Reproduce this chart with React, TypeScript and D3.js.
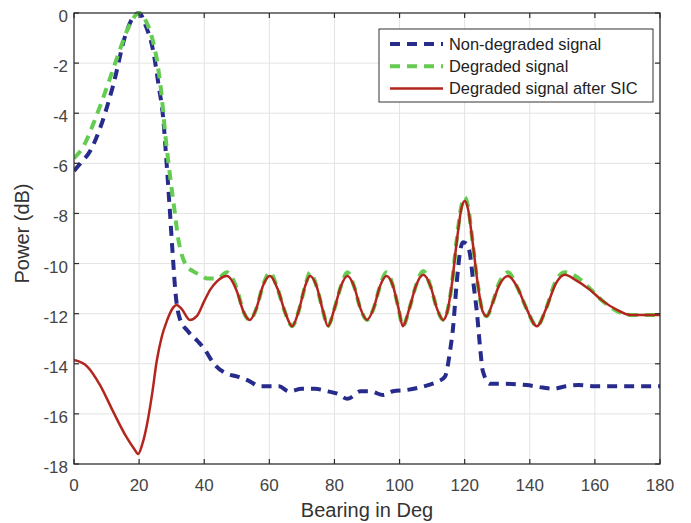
import React from "react";
import * as d3 from "d3";

// bearing (deg), power (dB)
const nonDegraded: [number, number][] = [
  [0, -6.3], [2, -6.0], [5, -5.5], [8, -4.6], [12, -2.9], [16, -0.8], [18, -0.2], [20, 0],
  [22, -0.5], [24.3, -1.5], [26, -2.9], [27.4, -4.2], [28.5, -6.1], [29.5, -8], [30.3, -9.6],
  [31.2, -11.2], [32.5, -12.2], [35, -12.7], [38, -13.1], [40, -13.4], [43, -14.0], [47, -14.4],
  [50, -14.5], [54, -14.7], [57, -14.9], [63, -14.9], [66, -15.1], [70, -15.0], [74, -15.0],
  [78, -15.1], [81, -15.2], [84, -15.4], [88, -15.1], [91, -15.1], [95, -15.25], [98, -15.1],
  [102, -15.05], [106, -14.95], [110, -14.8], [112, -14.7], [114, -14.5], [115.5, -13.5],
  [116.4, -12.6], [117.6, -10.7], [118.5, -9.6], [119.5, -9.15], [120.5, -9.2], [121.6, -9.6],
  [122.7, -10.8], [123.8, -12], [124.7, -13.3], [125.6, -14.3], [127.8, -14.8], [132, -14.8],
  [139, -14.85], [144, -14.95], [147, -15.0], [151, -14.9], [155, -14.85], [160, -14.9],
  [170, -14.9], [180, -14.9],
];

const degraded: [number, number][] = [
  [0, -5.8], [3, -5.3], [6, -4.4], [10, -3.0], [14, -1.5], [17, -0.5], [20, 0], [22, -0.3],
  [24, -1.0], [25.5, -1.9], [27, -3.4], [28, -4.8], [29.5, -6.5], [31, -8], [32, -9], [33, -9.6],
  [34.6, -10.1], [36.5, -10.3], [38.7, -10.45], [41, -10.6], [44, -10.6], [47, -10.35],
  [50, -11.0], [52, -11.9], [54, -12.25], [56, -11.8], [58, -10.9], [60.2, -10.35], [62.5, -11.0],
  [65, -12.0], [67, -12.5], [69, -11.9], [71, -10.9], [72.5, -10.35], [74.5, -10.9], [76.5, -11.9],
  [78, -12.5], [80, -11.8], [82, -10.9], [84, -10.35], [86, -10.9], [88, -11.8], [90, -12.25],
  [92, -11.8], [94, -10.9], [96, -10.35], [98, -10.9], [99.7, -11.8], [101, -12.5], [103, -11.8],
  [105, -10.9], [107.3, -10.3], [109.5, -10.9], [111.5, -11.8], [113.4, -12.25], [114.5, -12.0],
  [116, -10.9], [117.5, -9.1], [119, -7.7], [120, -7.35], [121, -7.7], [122.5, -9.2], [124, -10.8],
  [125.5, -11.9], [126.8, -12.1], [128.5, -11.6], [130.5, -10.8], [133.3, -10.35], [136, -10.9],
  [139, -11.8], [142.2, -12.5], [145, -11.8], [148, -10.7], [150.8, -10.35], [154, -10.5],
  [158.5, -11.0], [162, -11.45], [166.8, -11.9], [170.8, -12.05], [175, -12.05], [180, -12.05],
];

const afterSic: [number, number][] = [
  [0, -13.85], [4, -14.1], [8, -14.85], [12, -15.9], [16, -16.9], [18.5, -17.4], [19.7, -17.6],
  [21, -17.2], [22.3, -16.5], [24, -15.2], [25.4, -13.9], [27, -12.9], [28.5, -12.3], [30.5, -11.75],
  [31.5, -11.65], [33, -11.8], [35.6, -12.25], [37.7, -12.1], [40, -11.5], [41.8, -11.05],
  [44, -10.7], [47, -10.5], [50, -11.1], [52, -11.9], [54, -12.25], [56, -11.8], [58, -10.9],
  [60.2, -10.5], [62.5, -11.0], [65, -12.0], [67, -12.5], [69, -11.9], [71, -10.9], [72.5, -10.5],
  [74.5, -10.9], [76.5, -11.9], [78, -12.5], [80, -11.8], [82, -10.9], [84, -10.5], [86, -10.9],
  [88, -11.8], [90, -12.25], [92, -11.8], [94, -10.9], [96, -10.5], [98, -10.9], [99.7, -11.8],
  [101, -12.5], [103, -11.8], [105, -10.9], [107.3, -10.45], [109.5, -10.9], [111.5, -11.8],
  [113.4, -12.25], [114.5, -12.0], [116, -10.9], [117.5, -9.2], [119, -7.8], [120, -7.5],
  [121, -7.8], [122.5, -9.2], [124, -10.8], [125.5, -11.9], [126.8, -12.1], [128.5, -11.6],
  [130.5, -10.9], [133.3, -10.5], [136, -10.9], [139, -11.8], [142.2, -12.5], [145, -11.8],
  [148, -10.8], [150.8, -10.45], [154, -10.65], [158.5, -11.05], [162, -11.45], [166.8, -11.85],
  [170.8, -12.05], [175, -12.05], [180, -12.05],
];

const xTicks = [0, 20, 40, 60, 80, 100, 120, 140, 160, 180];
const yTicks = [0, -2, -4, -6, -8, -10, -12, -14, -16, -18];

const series = [
  { name: "Non-degraded signal", data: nonDegraded, color: "#272b8c", width: 4, dash: "10,7" },
  { name: "Degraded signal", data: degraded, color: "#64cc50", width: 4, dash: "10,7" },
  { name: "Degraded signal after SIC", data: afterSic, color: "#b3261e", width: 2.5, dash: null },
];

const W = 691;
const H = 523;
const m = { left: 74, top: 13, right: 660, bottom: 464 };
const font = "'Liberation Sans', Arial, Helvetica, sans-serif";

export default function App() {
  const x = d3.scaleLinear().domain([0, 180]).range([m.left, m.right]);
  const y = d3.scaleLinear().domain([-18, 0]).range([m.bottom, m.top]);
  const line = d3
    .line<[number, number]>()
    .x((d) => x(d[0]))
    .y((d) => y(d[1]))
    .curve(d3.curveMonotoneX);

  const tick = 5;
  const leg = { x: 379, y: 29, w: 274, h: 73 };

  return (
    <div style={{ position: "fixed", left: 0, top: 0 }}>
      <svg width={W} height={H} style={{ display: "block", background: "#fff" }}>
        {/* grid */}
        <g stroke="#e3e3e3" strokeWidth={1}>
          {xTicks.map((t) => (
            <line key={"gx" + t} x1={x(t)} x2={x(t)} y1={m.top} y2={m.bottom} />
          ))}
          {yTicks.map((t) => (
            <line key={"gy" + t} x1={m.left} x2={m.right} y1={y(t)} y2={y(t)} />
          ))}
        </g>

        {/* curves */}
        <defs>
          <clipPath id="plot">
            <rect x={m.left} y={m.top - 2} width={m.right - m.left} height={m.bottom - m.top + 2} />
          </clipPath>
        </defs>
        <g clipPath="url(#plot)" fill="none">
          {series.map((s) => (
            <path
              key={s.name}
              d={line(s.data) || ""}
              stroke={s.color}
              strokeWidth={s.width}
              strokeDasharray={s.dash || undefined}
              strokeLinejoin="round"
            />
          ))}
        </g>

        {/* axes box + ticks */}
        <g stroke="#2b2b2b" strokeWidth={1.2} fill="none">
          <rect x={m.left} y={m.top} width={m.right - m.left} height={m.bottom - m.top} />
          {xTicks.map((t) => (
            <g key={"tx" + t}>
              <line x1={x(t)} x2={x(t)} y1={m.bottom} y2={m.bottom - tick} />
              <line x1={x(t)} x2={x(t)} y1={m.top} y2={m.top + tick} />
            </g>
          ))}
          {yTicks.map((t) => (
            <g key={"ty" + t}>
              <line x1={m.left} x2={m.left + tick} y1={y(t)} y2={y(t)} />
              <line x1={m.right} x2={m.right - tick} y1={y(t)} y2={y(t)} />
            </g>
          ))}
        </g>

        {/* tick labels */}
        <g fontFamily={font} fontSize={17} fill="#444">
          {xTicks.map((t) => (
            <text key={"lx" + t} x={x(t)} y={m.bottom + 27} textAnchor="middle">
              {t}
            </text>
          ))}
          {yTicks.map((t) => (
            <text key={"ly" + t} x={m.left - 6} y={y(t) + 9} textAnchor="end">
              {t}
            </text>
          ))}
        </g>

        {/* axis labels */}
        <text
          x={(m.left + m.right) / 2}
          y={517}
          textAnchor="middle"
          fontFamily={font}
          fontSize={20}
          fill="#333"
        >
          Bearing in Deg
        </text>
        <text
          transform={`translate(29,${(m.top + m.bottom) / 2 - 5}) rotate(-90)`}
          textAnchor="middle"
          fontFamily={font}
          fontSize={20}
          fill="#333"
        >
          Power (dB)
        </text>

        {/* legend */}
        <g>
          <rect x={leg.x} y={leg.y} width={leg.w} height={leg.h} fill="#fff" stroke="#333" strokeWidth={1} />
          {series.map((s, i) => {
            const cy = 44 + i * 22.2;
            return (
              <g key={"leg" + s.name}>
                <line
                  x1={390}
                  x2={443}
                  y1={cy}
                  y2={cy}
                  stroke={s.color}
                  strokeWidth={s.width}
                  strokeDasharray={s.dash || undefined}
                />
                <text x={449} y={cy + 5.8} fontFamily={font} fontSize={16.4} fill="#222">
                  {s.name}
                </text>
              </g>
            );
          })}
        </g>
      </svg>
    </div>
  );
}
